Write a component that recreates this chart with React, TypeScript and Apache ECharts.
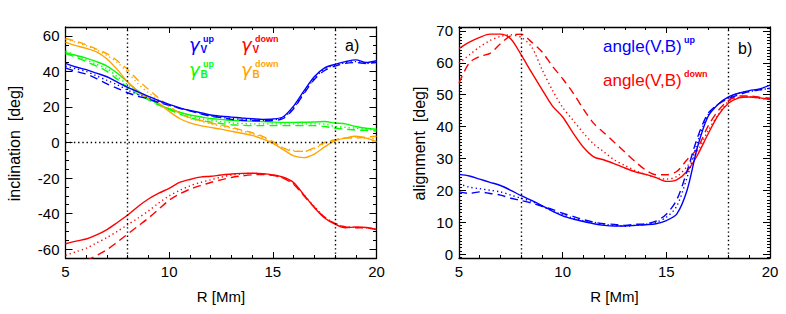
import React, { useEffect, useRef } from "react";
import * as echarts from "echarts";

// ---------- data ----------
const R = [5, 5.5, 6, 6.5, 7, 7.5, 8, 8.5, 9, 9.5, 10, 10.5, 11, 11.5, 12, 12.5, 13, 13.5, 14, 14.5, 15, 15.5, 16, 16.5, 17, 17.5, 18, 18.5, 19, 19.5, 20];

// panel a) inclination
const gVupSolid = [44.5, 42.5, 41, 39, 37, 34, 31, 28.5, 26, 23.5, 21.5, 19.5, 18, 16.8, 15.5, 14.8, 14.3, 13.8, 13.4, 13, 13.2, 14.5, 20.5, 29, 37, 42, 44, 45.5, 46.5, 45, 46];
const gVupDot = [43, 41.5, 40, 37.5, 35, 32.5, 29.5, 27, 25, 23, 21, 19.5, 18, 16.5, 15, 14.2, 13.5, 13, 12.8, 12.5, 12.7, 14, 19.5, 28, 36, 41.5, 43.5, 45, 45.5, 44.5, 45.5];
const gVupDash = [42, 40, 38.5, 36, 33, 30.5, 28, 26, 24.5, 22.5, 21, 19.3, 17.8, 16.2, 14.8, 14, 13, 12.5, 12.3, 12.2, 12.4, 13.5, 19, 27.5, 35.5, 40.5, 43, 44.5, 45, 44.5, 45];

const gVdownSolid = [-57, -55.5, -54.3, -52, -49, -45, -40.8, -36, -31.8, -28.5, -25.8, -22.5, -20.8, -19.5, -19, -18.3, -17.7, -17.4, -17.3, -17.5, -18.2, -19.5, -22.5, -29.5, -36.5, -42.5, -46, -48, -47.5, -47.8, -49];
const gVdownDot = [-63.5, -61.5, -59.5, -56.5, -53.5, -50, -46.3, -42.5, -38.5, -34, -30, -27, -24.4, -22.5, -21, -19.5, -18.3, -17.7, -17.4, -17.6, -18.5, -20, -23, -29.5, -36, -42, -45.5, -47.5, -47.8, -48, -49];
const gVdownDash = [null, null, -66.5, -63.6, -60.3, -56, -51.5, -47, -42.5, -37.5, -32.5, -29, -26.3, -24.3, -22.5, -21, -19.7, -18.8, -18.2, -18, -18.5, -20, -23.5, -30, -36.5, -42, -45.5, -47.5, -48, -48, -49];

const gBupSolid = [50.5, 49, 47.5, 45.5, 43, 39, 34, 29, 25, 21.5, 19, 17, 15.5, 14.5, 13.5, 13, 12.5, 12.2, 12, 11.8, 11.5, 11.3, 11.3, 11.4, 11.5, 11.8, 11, 10.5, 9, 8, 7.5];
const gBupDot = [51.5, 49, 46.5, 44, 41.5, 37, 32.5, 28, 24.5, 21.5, 19, 17, 15, 13.5, 12.5, 11.8, 11, 10.7, 10.5, 10.5, 10.5, 10.5, 10.5, 10.5, 10.5, 10.3, 9, 8.5, 8, 7.5, 7];
const gBupDash = [50, 48, 45.5, 43, 40, 35.5, 31, 27, 24, 21, 18.5, 16, 14, 12.5, 11.5, 10.7, 10, 9.7, 9.5, 9.5, 9.5, 9.5, 9.5, 9.5, 9.5, 9, 8, 7.5, 7, 6.8, 6.5];

const gBdownSolid = [56.5, 54.5, 53, 51, 47, 41, 34, 28.5, 25, 22, 17.5, 13.5, 11, 9.5, 8.5, 7.5, 6.3, 5.2, 4, 2, -0.5, -4, -7.5, -8.5, -6.5, -2.5, 1, 2.5, 3.5, 2.5, 0.5];
const gBdownDot = [58, 56.5, 54.5, 52, 49, 45, 39.5, 33, 28, 24, 20, 16.5, 13.5, 12, 10.5, 9.2, 8, 6.5, 5, 3, 0, -3, -4.5, -5, -3.5, -0.5, 1.5, 2.5, 3, 2.5, 2];
const gBdownDash = [58.5, 57, 55, 52.5, 50, 46, 41, 35, 30, 25, 20.5, 16.5, 14, 12.5, 11, 9.8, 8.5, 7, 5.5, 3.5, 0.5, -3, -5, -5, -3, 0, 1.5, 2.5, 2.5, 3, 3.5];

// panel b) alignment
const angUpSolid = [25, 24.5, 23.5, 22.5, 21.5, 20, 18.3, 16.8, 15.2, 13.5, 12, 11, 10.2, 9.5, 9, 8.8, 8.8, 9, 9.2, 9.5, 10.5, 12.5, 20, 33.5, 43, 47, 49.3, 50.5, 51.3, 51.8, 53];
const angUpDot = [22, 21, 20.5, 20, 19.5, 18.5, 17.5, 16.5, 15, 13.5, 12.3, 11.3, 10.5, 10, 9.3, 9, 8.7, 9, 9.3, 10, 11.5, 15, 24, 35, 43.5, 47, 49, 50.5, 51, 51.5, 52];
const angUpDash = [19.5, 19, 19.5, 19, 18.5, 17.5, 16.8, 16, 15, 14, 12.8, 11.8, 10.8, 10, 9.5, 9.3, 9, 9.3, 9.5, 10.3, 12.5, 17, 26, 36.5, 44, 47, 48.8, 50, 51, 51.5, 52];

const angDownSolid = [64.5, 66.5, 68, 69, 69, 67.5, 62.5, 57, 51.7, 46.5, 43, 38, 33.5, 30.5, 29.5, 28.3, 27, 25.8, 25, 24, 22.8, 23.3, 26, 31, 37.5, 43.5, 47.3, 49, 49.3, 49, 48.5];
const angDownDot = [59.9, 62.5, 65, 67, 68.3, 68.8, 68, 65, 58, 51.5, 46, 42, 38, 34.5, 32, 29.5, 27.8, 26.2, 25, 24, 23.5, 24.3, 27.5, 32.2, 38.5, 43.7, 47.9, 49.2, 49.4, 48.9, 48.4];
const angDownDash = [53.6, 60, 62, 63, 66, 68.5, 69, 66.5, 63.5, 59, 55, 50.6, 45.5, 41, 38, 35, 32, 29, 26.4, 24.9, 24.9, 25.9, 29.6, 33.2, 40, 45, 48.2, 49.6, 49.6, 49.2, 48.9];

// axes
const X_RANGE = [5, 20];
const X_MAJOR = 5;
const INC_RANGE = [-65, 65];
const INC_TICKS = [-60, -40, -20, 0, 20, 40, 60];
const INC_MINOR = [-60, -55, -50, -45, -40, -35, -30, -25, -20, -15, -10, -5, 0, 5, 10, 15, 20, 25, 30, 35, 40, 45, 50, 55, 60];
const ALI_RANGE = [-1.25, 71.25];
const ALI_TICKS = [0, 10, 20, 30, 40, 50, 60, 70];
const ALI_MINOR = [-1, 0, 1, 2, 3, 4, 5, 6, 7, 8, 9, 10, 11, 12, 13, 14, 15, 16, 17, 18, 19, 20, 21, 22, 23, 24, 25, 26, 27, 28, 29, 30, 31, 32, 33, 34, 35, 36, 37, 38, 39, 40, 41, 42, 43, 44, 45, 46, 47, 48, 49, 50, 51, 52, 53, 54, 55, 56, 57, 58, 59, 60, 61, 62, 63, 64, 65, 66, 67, 68, 69, 70, 71];
const V_LINES = [8, 18];

const BLUE = "#0000ff";
const RED = "#ff0000";
const GREEN = "#00ff00";
const ORANGE = "#ffa500";
const FONT = "Liberation Sans";

const DOT = [1.3, 3];
const DASH = [8, 5];

function line(ys: (number | null)[], color: string, style: any, gi: number) {
  return {
    type: "line",
    xAxisIndex: gi * 2,
    yAxisIndex: gi * 4,
    data: R.map((x, i) => [x, ys[i]]),
    symbol: "none",
    smooth: 0.3,
    clip: true,
    silent: true,
    lineStyle: { color, width: 1.4, type: style },
    z: 3,
  };
}

function xAxes(gi: number) {
  const base = {
    type: "value",
    gridIndex: gi,
    min: X_RANGE[0],
    max: X_RANGE[1],
    interval: X_MAJOR,
    splitLine: { show: false },
    axisLine: { show: true, onZero: false, lineStyle: { color: "#000", width: 1.3 } },
    axisTick: { show: true, inside: true, length: 6, lineStyle: { color: "#000", width: 1 } },
    minorTick: { show: true, splitNumber: 5, length: 3, lineStyle: { color: "#000", width: 1 } },
  };
  return [
    {
      ...base,
      position: "bottom",
      axisLabel: { show: true, margin: 6, fontSize: 15, fontFamily: FONT, color: "#000", showMinLabel: true, showMaxLabel: true },
    },
    { ...base, position: "top", axisLabel: { show: false } },
  ];
}

function yAxes(gi: number, range: number[], ticks: number[], minor: number[], minorLen: number) {
  const base = {
    type: "value",
    gridIndex: gi,
    min: range[0],
    max: range[1],
    splitLine: { show: false },
  };
  const res: any[] = [];
  (["left", "right"] as const).forEach((pos) => {
    res.push({
      ...base,
      position: pos,
      axisLine: { show: true, onZero: false, lineStyle: { color: "#000", width: 1.3 } },
      axisTick: { show: true, inside: true, length: 7, customValues: ticks, lineStyle: { color: "#000", width: 1 } },
      axisLabel:
        pos === "left"
          ? { show: true, customValues: ticks, margin: 6, fontSize: 15, fontFamily: FONT, color: "#000" }
          : { show: false },
    });
    res.push({
      ...base,
      position: pos,
      axisLine: { show: false },
      axisTick: { show: true, inside: true, length: minorLen, customValues: minor, lineStyle: { color: "#000", width: 1 } },
      axisLabel: { show: false },
    });
  });
  return res;
}

function refLines(gi: number, withZero: boolean) {
  const data: any[] = V_LINES.map((v) => ({ xAxis: v }));
  if (withZero) data.push({ yAxis: 0 });
  return {
    type: "line",
    xAxisIndex: gi * 2,
    yAxisIndex: gi * 4,
    data: [],
    silent: true,
    markLine: {
      silent: true,
      symbol: "none",
      label: { show: false },
      lineStyle: { color: "#000", width: 1.4, type: [1.4, 2.8] },
      data,
    },
  };
}

function txt(x: number, y: number, text: string, color: string, size: number, extra: any = {}) {
  return {
    type: "text",
    x,
    y,
    silent: true,
    style: {
      text,
      fill: color,
      fontSize: size,
      fontFamily: FONT,
      align: "left",
      verticalAlign: "middle",
      ...extra,
    },
  };
}

function gammaLabel(x: number, y: number, color: string, sub: string, sup: string) {
  return [
    txt(x, y, "\u03b3", color, 18, { fontFamily: "DejaVu Sans", fontStyle: "italic" }),
    txt(x + 11.5, y + 5, sub, color, 10, { fontWeight: "bold" }),
    txt(x + 14, y - 6, sup, color, 9, { fontWeight: "bold" }),
  ];
}

export default function App() {
  const ref = useRef<HTMLDivElement>(null);
  useEffect(() => {
    const chart = echarts.init(ref.current!, null, { renderer: "svg" });
    const rot = (g: any) => ({ ...g, rotation: Math.PI / 2 });
    const option: any = {
      animation: false,
      backgroundColor: "#fff",
      grid: [
        { left: 65.5, top: 27, width: 311, height: 231 },
        { left: 459, top: 27, width: 311, height: 231 },
      ],
      xAxis: [...xAxes(0), ...xAxes(1)],
      yAxis: [
        ...yAxes(0, INC_RANGE, INC_TICKS, INC_MINOR, 3.5),
        ...yAxes(1, ALI_RANGE, ALI_TICKS, ALI_MINOR, 3),
      ],
      series: [
        refLines(0, true),
        refLines(1, false),
        line(gBupSolid, GREEN, "solid", 0),
        line(gBupDot, GREEN, DOT, 0),
        line(gBupDash, GREEN, DASH, 0),
        line(gBdownSolid, ORANGE, "solid", 0),
        line(gBdownDot, ORANGE, DOT, 0),
        line(gBdownDash, ORANGE, DASH, 0),
        line(gVupSolid, BLUE, "solid", 0),
        line(gVupDot, BLUE, DOT, 0),
        line(gVupDash, BLUE, DASH, 0),
        line(gVdownSolid, RED, "solid", 0),
        line(gVdownDot, RED, DOT, 0),
        line(gVdownDash, RED, DASH, 0),
        line(angDownSolid, RED, "solid", 1),
        line(angDownDot, RED, DOT, 1),
        line(angDownDash, RED, DASH, 1),
        line(angUpSolid, BLUE, "solid", 1),
        line(angUpDot, BLUE, DOT, 1),
        line(angUpDash, BLUE, DASH, 1),
      ],
      graphic: [
        ...gammaLabel(189, 44.5, BLUE, "V", "up"),
        ...gammaLabel(241, 44.5, RED, "V", "down"),
        ...gammaLabel(189, 69.5, GREEN, "B", "up"),
        ...gammaLabel(241, 69.5, ORANGE, "B", "down"),
        txt(345, 45.5, "a)", "#000", 16),
        txt(603, 46, "angle(V,B)", BLUE, 17),
        txt(684, 40, "up", BLUE, 9, { fontWeight: "bold" }),
        txt(603, 80.5, "angle(V,B)", RED, 17),
        txt(684, 74, "down", RED, 9, { fontWeight: "bold" }),
        txt(738, 48, "b)", "#000", 16),
        rot(txt(14, 143.5, "inclination  [deg]", "#000", 16, { align: "center" })),
        rot(txt(419, 143.5, "alignment  [deg]", "#000", 16, { align: "center" })),
        txt(221, 296, "R [Mm]", "#000", 15, { align: "center" }),
        txt(614.5, 296, "R [Mm]", "#000", 15, { align: "center" }),
      ],
    };
    chart.setOption(option);
    return () => chart.dispose();
  }, []);
  return (
    <div
      ref={ref}
      style={{ position: "absolute", left: 0, top: 0, width: 786, height: 314, background: "#fff" }}
    />
  );
}
